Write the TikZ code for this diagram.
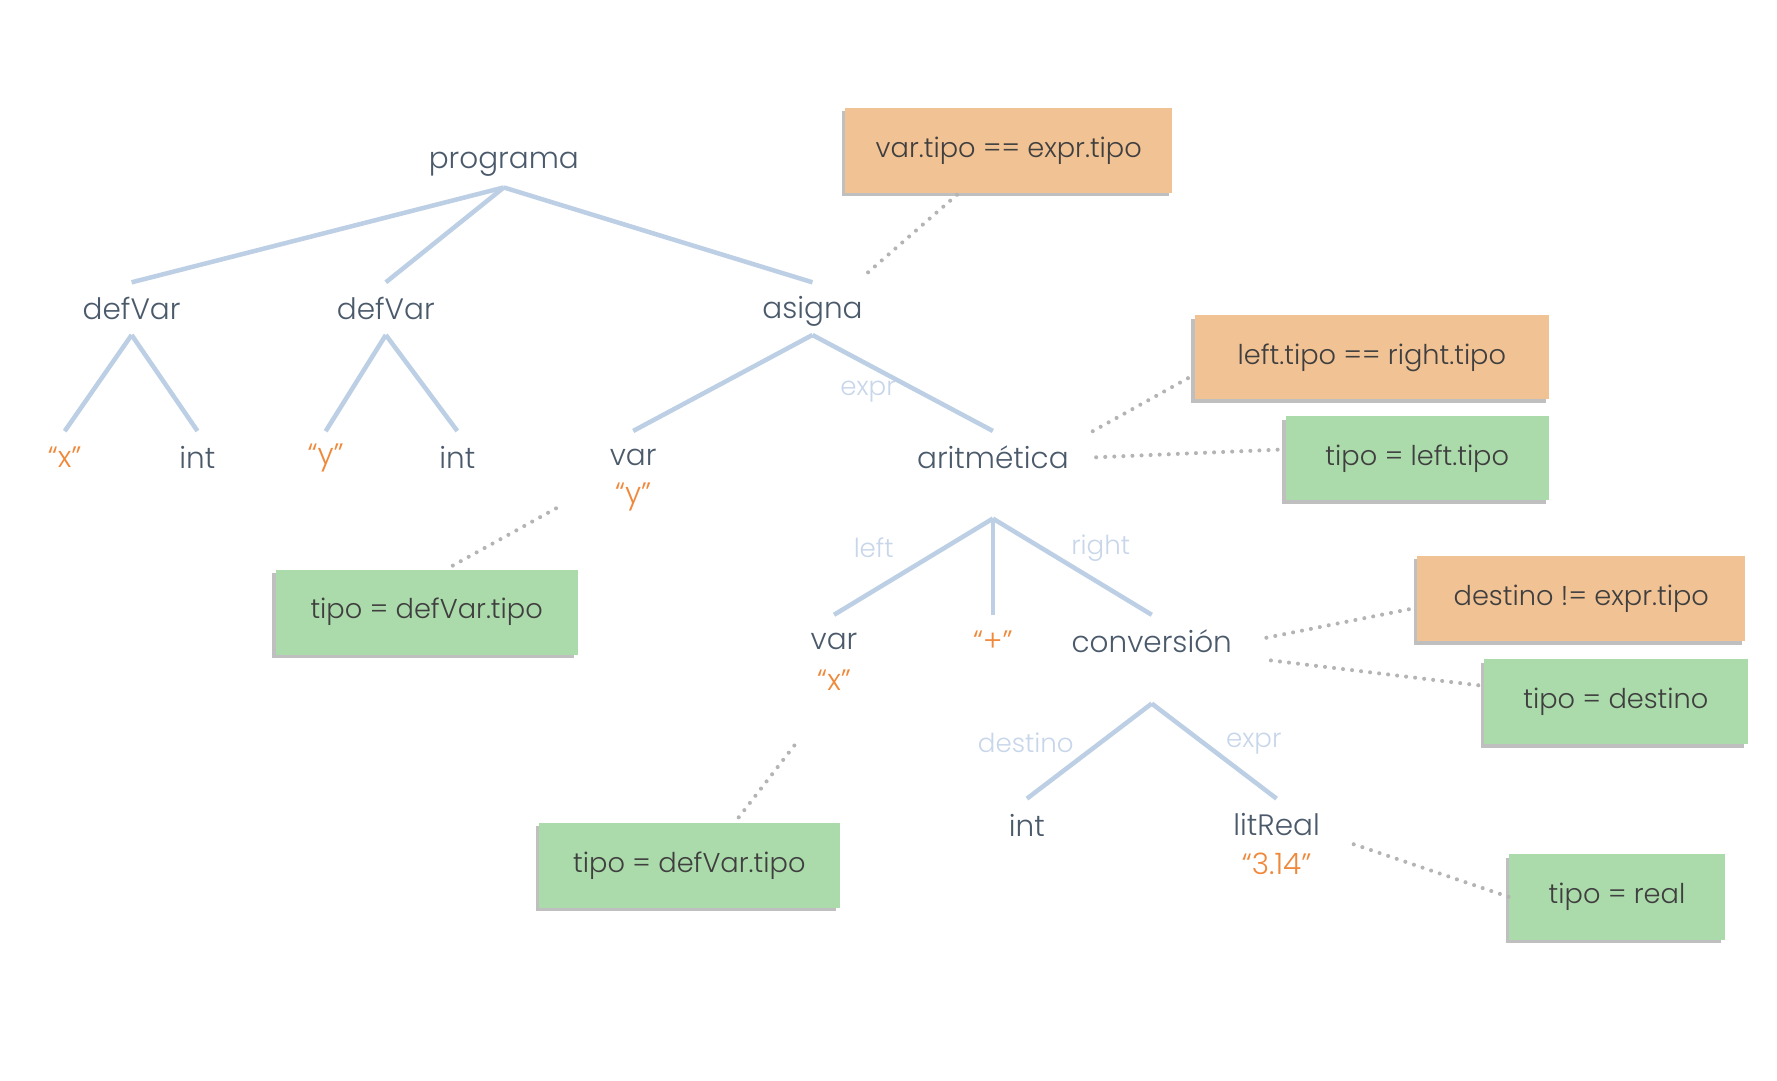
\documentclass[tikz,border=0pt]{standalone}
\usepackage{fontspec}
\setmainfont{Poppins Light}
\usepackage{tikz}

\definecolor{treetext}{HTML}{4B5A6B}
\definecolor{branchcol}{HTML}{BCCFE4}
\definecolor{litcol}{HTML}{F0883A}
\definecolor{lblcol}{HTML}{C8D6EA}
\definecolor{notetext}{HTML}{3F3F3F}
\definecolor{noteorange}{HTML}{F1C294}
\definecolor{notegreen}{HTML}{ABDAAB}
\definecolor{dotcol}{HTML}{B4B4B4}

\tikzset{
    tnode/.style={text=treetext, font=\fontsize{26}{30}\selectfont, inner sep=0pt, minimum height=46pt},
    lit/.style={text=litcol, font=\fontsize{26}{30}\selectfont, inner sep=0pt},
    elabel/.style={text=lblcol, font=\fontsize{23}{28}\selectfont, inner sep=0pt},
    branch/.style={draw=branchcol, line width=4pt},
    link/.style={draw=dotcol, line width=3.6pt, line cap=round, dash pattern=on 0pt off 8pt},
    sticky/.style={text=notetext, font=\fontsize{24}{28}\selectfont, inner sep=0pt,
        preaction={fill=black, opacity=.25, transform canvas={xshift=-3pt, yshift=-3pt}}},
    orangenote/.style={sticky, fill=noteorange},
    greennote/.style={sticky, fill=notegreen}
}

\begin{document}
\begin{tikzpicture}[x=1pt, y=-1pt]
    \useasboundingbox (0,0) rectangle (1566,952);

    % tree
    \node[tnode] (programa) at (444,145) {programa};
    \node[tnode] (defvarA) at (116,272) {defVar};
    \node[tnode] (defvarB) at (340,272) {defVar};
    \node[tnode] (asigna) at (716,274) {asigna};
    \node[lit] (strX) at (57,403) {“x”};
    \node[tnode] (intA) at (174,403) {int};
    \node[lit] (strY) at (287,404) {“y”};
    \node[tnode] (intB) at (403,403) {int};
    \node[tnode] (varY) at (558,403) {var};
    \node[lit] (valY) at (558,438) {“y”};
    \node[tnode] (arit) at (875,403) {aritmética};
    \node[tnode] (varX) at (735,565) {var};
    \node[lit] (valX) at (735,599) {“x”};
    \node[lit] (plus) at (875,565) {“+”};
    \node[tnode] (conv) at (1015,565) {conversión};
    \node[tnode] (intC) at (905,727) {int};
    \node[tnode] (litreal) at (1125,727) {litReal};
    \node[lit] (valReal) at (1125,761) {“3.14”};

    \coordinate (stemStrX) at (57,380);
    \coordinate (stemStrY) at (287,380);
    \coordinate (stemPlus) at (875,542);
    \coordinate (aritBase) at (875,457);
    \coordinate (convBase) at (1015,620);

    \draw[branch] ([yshift=3pt]programa.south) -- (defvarA.north);
    \draw[branch] ([yshift=3pt]programa.south) -- (defvarB.north);
    \draw[branch] ([yshift=3pt]programa.south) -- ([yshift=2pt]asigna.north);
    \draw[branch] (defvarA.south) -- (stemStrX);
    \draw[branch] (defvarA.south) -- (intA.north);
    \draw[branch] (defvarB.south) -- (stemStrY);
    \draw[branch] (defvarB.south) -- (intB.north);
    \draw[branch] ([yshift=2pt]asigna.south) -- (varY.north);
    \draw[branch] ([yshift=2pt]asigna.south) -- (arit.north);
    \draw[branch] (aritBase) -- (varX.north);
    \draw[branch] (aritBase) -- (stemPlus);
    \draw[branch] (aritBase) -- (conv.north);
    \draw[branch] (convBase) -- (intC.north);
    \draw[branch] (convBase) -- (litreal.north);

    % edge labels
    \node[elabel] (lblExpr) at (765,345) {expr};
    \node[elabel] (lblLeft) at (770,483) {left};
    \node[elabel] (lblRight) at (970,483) {right};
    \node[elabel] (lblDestino) at (904,655) {destino};
    \node[elabel] (lblExprB) at (1105,655) {expr};

    % notes
    \node[orangenote, minimum width=288pt, minimum height=75pt] (noteA) at (889,132.5) {var.tipo == expr.tipo};
    \node[orangenote, minimum width=312pt, minimum height=74pt] (noteB) at (1209,315) {left.tipo == right.tipo};
    \node[greennote, minimum width=232pt, minimum height=74pt] (noteC) at (1249,404) {tipo = left.tipo};
    \node[greennote, minimum width=266pt, minimum height=75pt] (noteD) at (376,539.5) {tipo = defVar.tipo};
    \node[orangenote, minimum width=289pt, minimum height=75pt] (noteE) at (1393.5,527.5) {destino != expr.tipo};
    \node[greennote, minimum width=232pt, minimum height=75pt] (noteF) at (1424,618.5) {tipo = destino};
    \node[greennote, minimum width=265pt, minimum height=75pt] (noteG) at (607.5,762.5) {tipo = defVar.tipo};
    \node[greennote, minimum width=190pt, minimum height=75pt] (noteH) at (1425,790.5) {tipo = real};

    % dotted links
    \coordinate (tieAsigna) at (765,240);
    \coordinate (tieAritA) at (963,380);
    \coordinate (tieAritB) at (966,403);
    \coordinate (tieVarY) at (490,448);
    \coordinate (tieConvA) at (1116,562);
    \coordinate (tieConvB) at (1120,582);
    \coordinate (tieVarX) at (700,657);
    \coordinate (tieReal) at (1193,744);

    \draw[link] (tieAsigna) -- ([xshift=-44pt]noteA.south);
    \draw[link] (tieAritA) -- ([yshift=-15pt]noteB.west);
    \draw[link] (tieAritB) -- ([yshift=8pt]noteC.west);
    \draw[link] (tieVarY) -- ([xshift=17pt]noteD.north);
    \draw[link] (tieConvA) -- ([yshift=-8pt]noteE.west);
    \draw[link] (tieConvB) -- ([yshift=14pt]noteF.west);
    \draw[link] (tieVarX) -- ([xshift=40pt]noteG.north);
    \draw[link] (tieReal) -- (noteH.west);
\end{tikzpicture}
\end{document}
